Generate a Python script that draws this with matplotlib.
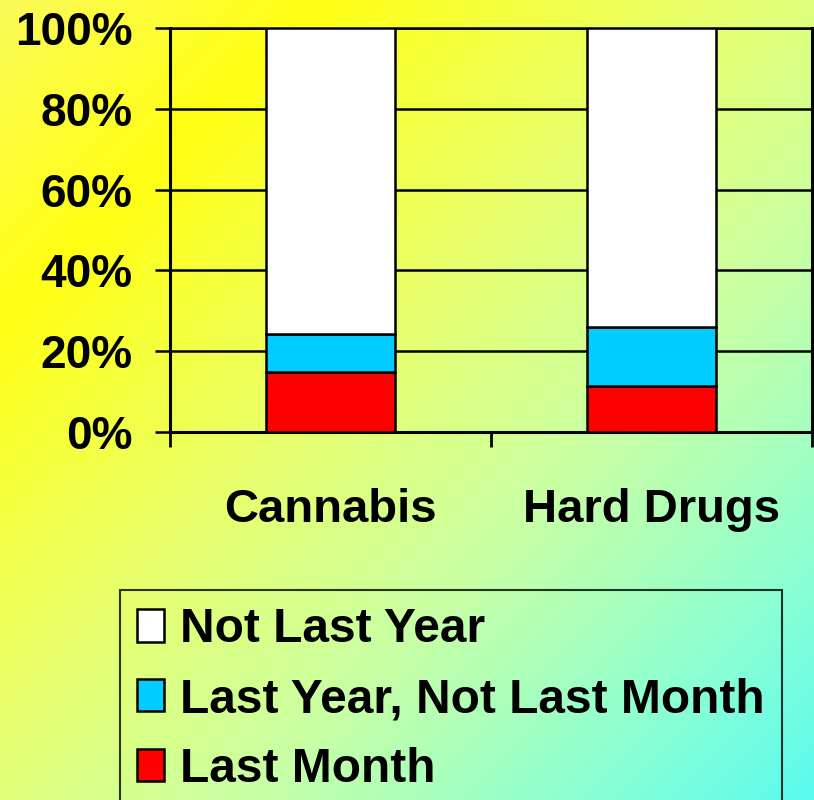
import numpy as np
import matplotlib.pyplot as plt

plt.rcParams['font.family'] = ['Liberation Sans', 'DejaVu Sans']
plt.rcParams['font.weight'] = 'bold'

# survey shares (% of users), stacked bottom to top
categories = ['Cannabis', 'Hard Drugs']
last_month = [14.8, 11.3]
last_year_not_month = [9.4, 14.7]
not_last_year = [75.8, 74.0]

series = [last_month, last_year_not_month, not_last_year]
series_labels = ['Last Month', 'Last Year, Not Last Month', 'Not Last Year']
series_colors = ['#ff0000', '#00ccff', '#ffffff']
yticks = [0, 20, 40, 60, 80, 100]

W, H = 814, 800
fig = plt.figure(figsize=(W / 100, H / 100), dpi=100)

# diagonal yellow -> cyan backdrop
bg = fig.add_axes([0, 0, 1, 1])
bg.axis('off')
yy, xx = np.mgrid[0:H, 0:W]
t = (xx + yy) / (W + H - 2)
stop_pos = [0.0, 0.2, 0.45, 0.65, 0.85, 1.0]
stop_rgb = np.array([(250, 250, 90), (255, 255, 20), (232, 255, 110),
                     (200, 255, 165), (140, 255, 210), (90, 250, 240)]) / 255
img = np.dstack([np.interp(t, stop_pos, stop_rgb[:, k]) for k in range(3)])
bg.imshow(img, aspect='auto', zorder=0)

ax = fig.add_axes([170 / W, 1 - 432 / H, 642 / W, 404 / H])
ax.patch.set_alpha(0)

x = np.arange(len(categories))
bottom = np.zeros(len(categories))
bars = []
for vals, color, label in zip(series, series_colors, series_labels):
    b = ax.bar(x, vals, 0.4, bottom=bottom, color=color, edgecolor='black',
               linewidth=1.8, label=label, zorder=3)
    bars.append(b)
    bottom += np.array(vals)

ax.set_xlim(-0.5, 1.5)
ax.set_ylim(0, 100)
ax.set_yticks(yticks, [f'{v}%' for v in yticks])
ax.yaxis.grid(True, color='black', linewidth=1.8)
ax.set_axisbelow(True)

ax.set_xticks(x, categories)
ax.set_xticks([-0.5, 0.5, 1.5], minor=True)
ax.tick_params(axis='x', which='major', length=0, pad=40, labelsize=34)
ax.tick_params(axis='x', which='minor', length=11, width=2, direction='out')
ax.tick_params(axis='y', length=11, width=1.8, pad=16, labelsize=33)

for side in ['left', 'right', 'bottom', 'top']:
    ax.spines[side].set_linewidth(2.2)
    ax.spines[side].set_color('black')
ax.spines['top'].set_linewidth(1.8)

leg = fig.legend(bars[::-1], series_labels[::-1], loc='upper left',
                 bbox_to_anchor=(120 / W, 1 - 590 / H), borderaxespad=0,
                 fontsize=34.5, handlelength=0.56, handleheight=0.66,
                 handletextpad=0.34, labelspacing=0.52, borderpad=0.36,
                 fancybox=False)
leg.get_frame().set_facecolor('none')
leg.get_frame().set_edgecolor('black')
leg.get_frame().set_linewidth(1.5)

fig.savefig('out.png', dpi=100)
